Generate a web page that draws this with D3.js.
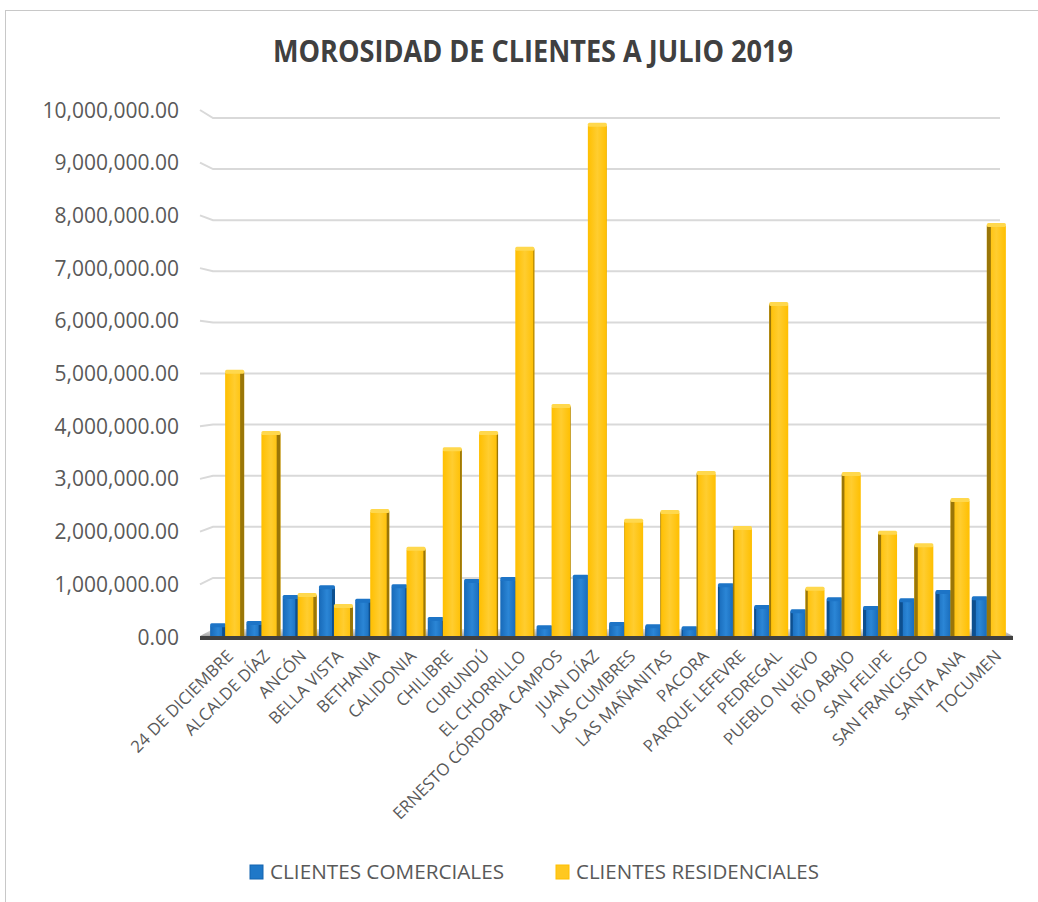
<!DOCTYPE html>
<html>
<head>
<meta charset="utf-8">
<script src="https://cdn.jsdelivr.net/npm/d3@7"></script>
<style>
  body { margin: 0; background: #fff; }
  text { font-family: "Open Sans", sans-serif; fill: #595959; }
</style>
</head>
<body>
<div id="chart"></div>
<script>
var width = 1038,
    height = 902;

// data
var categories = ["24 DE DICIEMBRE", "ALCALDE DÍAZ", "ANCÓN", "BELLA VISTA", "BETHANIA", "CALIDONIA",
  "CHILIBRE", "CURUNDÚ", "EL CHORRILLO", "ERNESTO CÓRDOBA CAMPOS", "JUAN DÍAZ", "LAS CUMBRES",
  "LAS MAÑANITAS", "PACORA", "PARQUE LEFEVRE", "PEDREGAL", "PUEBLO NUEVO", "RÍO ABAJO",
  "SAN FELIPE", "SAN FRANCISCO", "SANTA ANA", "TOCUMEN"];
var comerciales = [190000, 230000, 730000, 920000, 660000, 940000, 310000, 1040000, 1080000, 150000, 1120000,
  210000, 170000, 130000, 960000, 540000, 460000, 690000, 520000, 670000, 830000, 710000];
var residenciales = [5070000, 3890000, 770000, 560000, 2390000, 1660000, 3580000, 3890000, 7440000, 4410000, 9830000,
  2200000, 2370000, 3120000, 2060000, 6380000, 890000, 3100000, 1970000, 1730000, 2600000, 7900000];
var series = ["CLIENTES COMERCIALES", "CLIENTES RESIDENCIALES"];
var yTicks = [0, 1000000, 2000000, 3000000, 4000000, 5000000, 6000000, 7000000, 8000000, 9000000, 10000000];

var svg = d3.select("#chart")
  .append("svg")
    .attr("width", width)
    .attr("height", height);

// chart border
svg.append("rect")
  .attr("x", 5.5).attr("y", 10.5)
  .attr("width", 1040).attr("height", 900)
  .attr("fill", "none")
  .attr("stroke", "#c8c8c8");

// title
svg.append("text")
  .attr("x", 533).attr("y", 62)
  .attr("text-anchor", "middle")
  .attr("textLength", 520)
  .attr("lengthAdjust", "spacingAndGlyphs")
  .style("font-size", "30px")
  .style("font-weight", "bold")
  .style("fill", "#404040")
  .text("MOROSIDAD DE CLIENTES A JULIO 2019");

// scales: front edge of the side wall, back wall, and the bars in between
var yFront = d3.scaleLinear().domain([0, 10000000]).range([637, 110]);
var yBack = d3.scaleLinear().domain([0, 10000000]).range([629, 118]);
var yBar = d3.scaleLinear().domain([0, 10000000]).range([633, 114]);
var x = d3.scaleBand().domain(categories).range([207, 1005]);

var fmt = d3.format(",.2f");

// gridlines with a short perspective stub on the side wall
var grid = svg.append("g");
yTicks.forEach(function(t) {
  if (t > 0) {
    grid.append("path")
      .attr("d", "M200," + yFront(t) + "L213," + yBack(t) + "L1000," + yBack(t))
      .attr("fill", "none")
      .attr("stroke", "#d9d9d9")
      .attr("stroke-width", 2);
  }
  svg.append("text")
    .attr("x", 179).attr("y", yFront(t))
    .attr("dy", "0.36em")
    .attr("text-anchor", "end")
    .style("font-size", "21px")
    .text(fmt(t));
});

// floor
var defs = svg.append("defs");
var fg = defs.append("linearGradient").attr("id", "floor").attr("x1", 0).attr("y1", 0).attr("x2", 0).attr("y2", 1);
fg.append("stop").attr("offset", "0%").attr("stop-color", "#e6e6e6");
fg.append("stop").attr("offset", "100%").attr("stop-color", "#a6a6a6");
svg.append("path")
  .attr("d", "M213," + yBack(0) + "L1000," + yBack(0) + "L1013,636L200,636Z")
  .attr("fill", "url(#floor)");
svg.append("rect")
  .attr("x", 200).attr("y", 636)
  .attr("width", 813).attr("height", 4)
  .attr("fill", "#404040");

// bar colours: face edge, face centre, side, top
var colors = [
  {id: "gBlue", edge: "#1769b8", mid: "#2b86d6", side: "#0d4f8f", top: "#1d74c6"},
  {id: "gYel", edge: "#ffbf00", mid: "#ffcd30", side: "#9a7608", top: "#ffd84d"}
];
colors.forEach(function(c) {
  var g = defs.append("linearGradient").attr("id", c.id);
  g.append("stop").attr("offset", "0%").attr("stop-color", c.edge);
  g.append("stop").attr("offset", "50%").attr("stop-color", c.mid);
  g.append("stop").attr("offset", "100%").attr("stop-color", c.edge);
});

var data = [];
categories.forEach(function(cat, i) {
  var cx = x(cat) + x.bandwidth() / 2;
  data.push({cat: cat, s: 0, v: comerciales[i], x0: cx - 15, w: 16, cx: cx});
  data.push({cat: cat, s: 1, v: residenciales[i], x0: cx, w: 19, cx: cx});
});

var base = 636;
var bars = svg.selectAll("g.bar")
  .data(data)
  .enter()
  .append("g")
    .attr("class", "bar");

bars.each(function(d) {
  var g = d3.select(this);
  var c = colors[d.s];
  var top = yBar(d.v);
  var sideW = Math.min(4, Math.abs(d.cx - 600) * 0.011);
  var sideLeft = d.cx > 600;
  // front face
  g.append("rect")
    .attr("x", d.x0).attr("y", top + 3)
    .attr("width", d.w).attr("height", base - top - 3)
    .attr("fill", "url(#" + c.id + ")");
  // visible side
  g.append("rect")
    .attr("x", sideLeft ? d.x0 : d.x0 + d.w - sideW)
    .attr("y", top + 2)
    .attr("width", sideW).attr("height", base - top - 2)
    .attr("fill", c.side);
  // top cap
  g.append("rect")
    .attr("x", d.x0).attr("y", top)
    .attr("width", d.w).attr("height", 4)
    .attr("rx", 1.5)
    .attr("fill", c.top);
});

// category labels
svg.selectAll("text.cat")
  .data(categories)
  .enter()
  .append("text")
    .attr("class", "cat")
    .attr("text-anchor", "end")
    .attr("transform", function(d, i) {
      return "translate(" + (x(d) + x.bandwidth() / 2 + 5 + i * 0.3) + ",653) rotate(-45)";
    })
    .attr("dy", "0.35em")
    .style("font-size", "16.8px")
    .text(function(d) { return d; });

// legend
var legendX = [250, 556];
var legendLen = [234, 243];
series.forEach(function(s, i) {
  svg.append("rect")
    .attr("x", legendX[i]).attr("y", 865)
    .attr("width", 13).attr("height", 14)
    .attr("fill", i === 0 ? "#1f78c8" : "#ffc820")
    .attr("stroke", i === 0 ? "#1565b0" : "#ffbf00");
  svg.append("text")
    .attr("x", legendX[i] + 20).attr("y", 879)
    .attr("textLength", legendLen[i])
    .attr("lengthAdjust", "spacingAndGlyphs")
    .style("font-size", "20px")
    .text(s);
});
</script>
</body>
</html>
